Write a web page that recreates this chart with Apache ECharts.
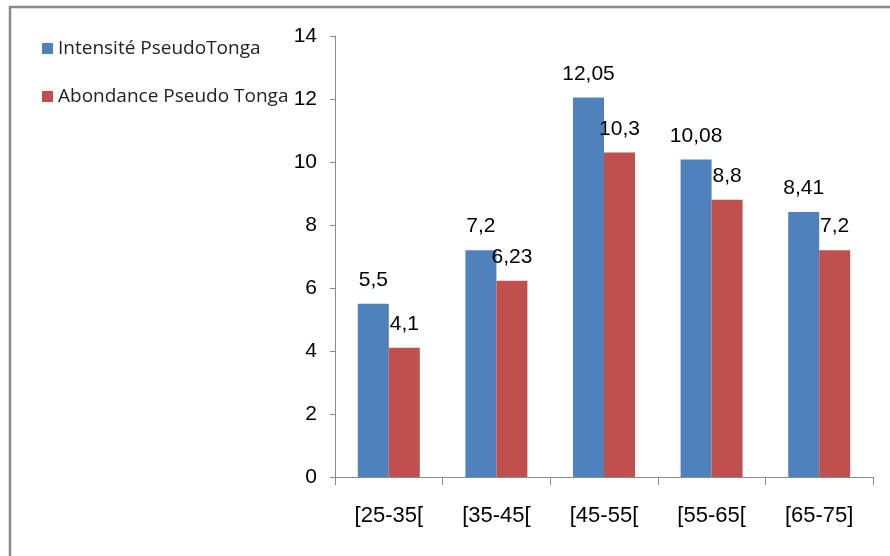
<!DOCTYPE html>
<html>
<head>
<meta charset="utf-8">
<script src="https://cdn.jsdelivr.net/npm/echarts@6/dist/echarts.min.js"></script>
<style>
  html, body { margin: 0; padding: 0; background: #fff; }
  #chart { width: 890px; height: 556px; }
</style>
</head>
<body>
<div id="chart"></div>
<script>
// Age classes and the two measured series
var categories = ['[25-35[', '[35-45[', '[45-55[', '[55-65[', '[65-75]'];
var intensite = [5.5, 7.2, 12.05, 10.08, 8.41];
var abondance = [4.1, 6.23, 10.3, 8.8, 7.2];
var seriesNames = ['Intensité PseudoTonga', 'Abondance Pseudo Tonga'];

var chart = echarts.init(document.getElementById('chart'));

function commaLabel(p) {
  return String(p.value).replace('.', ',');
}

var labelStyle = {
  show: true,
  position: 'top',
  distance: 13,
  fontFamily: 'Liberation Sans, Arial, sans-serif',
  fontSize: 21,
  color: '#000',
  formatter: commaLabel
};

chart.setOption({
  animation: false,
  graphic: [{
    type: 'rect',
    shape: { x: 10, y: 7, width: 900, height: 560 },
    style: { fill: 'none', stroke: '#8a8a8a', lineWidth: 2.5 },
    silent: true
  }],
  legend: {
    orient: 'vertical',
    left: 37,
    top: 34,
    itemWidth: 11,
    itemHeight: 11,
    itemGap: 29,
    icon: 'rect',
    textStyle: { fontFamily: 'Open Sans, sans-serif', fontSize: 19, color: '#222' },
    data: seriesNames
  },
  grid: { left: 335, right: 17, top: 36, bottom: 79 },
  xAxis: {
    type: 'category',
    data: categories,
    axisLine: { lineStyle: { color: '#8a8a8a', width: 1 } },
    axisTick: { show: true, length: 8, lineStyle: { color: '#8a8a8a' } },
    axisLabel: {
      margin: 28,
      fontFamily: 'Liberation Sans, Arial, sans-serif',
      fontSize: 22,
      color: '#000'
    }
  },
  yAxis: {
    type: 'value',
    min: 0,
    max: 14,
    interval: 2,
    splitLine: { show: false },
    axisLine: { show: true, lineStyle: { color: '#8a8a8a', width: 1 } },
    axisTick: { show: true, length: 5, lineStyle: { color: '#8a8a8a' } },
    axisLabel: {
      margin: 18,
      fontFamily: 'Liberation Sans, Arial, sans-serif',
      fontSize: 21,
      color: '#000'
    }
  },
  series: [
    {
      name: seriesNames[0],
      type: 'bar',
      data: intensite,
      barWidth: 31,
      barGap: '0%',
      itemStyle: { color: '#4F81BD' },
      label: labelStyle
    },
    {
      name: seriesNames[1],
      type: 'bar',
      data: abondance,
      barWidth: 31,
      barGap: '0%',
      itemStyle: { color: '#C0504D' },
      label: labelStyle
    }
  ]
});
</script>
</body>
</html>
